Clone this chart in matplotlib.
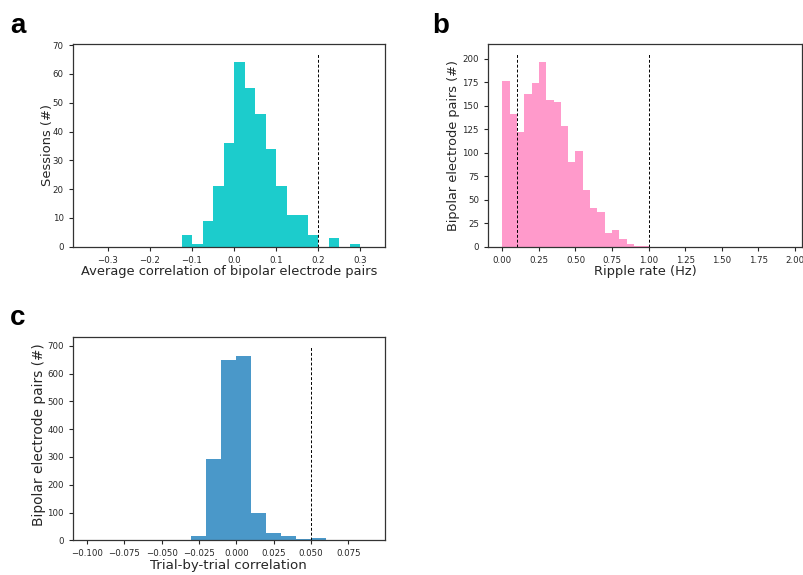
import numpy as np
import matplotlib
matplotlib.use("Agg")
import matplotlib.pyplot as plt
from matplotlib.ticker import MultipleLocator

# panel a: average correlation per session
a_edges = np.round(np.arange(-0.35, 0.3251, 0.025), 3)
a_counts = [0, 0, 0, 0, 0, 0, 0, 0, 0,
            4, 1, 9, 21, 36, 64, 55, 46, 34, 21, 11, 11, 4, 0, 3, 0, 1, 0]

# panel b: ripple rate
b_edges = np.round(np.arange(0.0, 1.0001, 0.05), 3)
b_counts = [176, 141, 122, 162, 174, 196, 156, 154, 128, 90,
            102, 60, 41, 37, 15, 18, 8, 3, 1, 1]

# panel c: trial-by-trial correlation
c_edges = np.round(np.arange(-0.1, 0.0901, 0.01), 3)
c_counts = [0, 0, 0, 0, 0, 0, 1, 16, 293, 649, 664, 98, 27, 16, 5, 8, 2, 1, 1]

TXT = "#262626"
plt.rcParams["font.family"] = "DejaVu Sans"
plt.rcParams["text.color"] = TXT
plt.rcParams["axes.labelcolor"] = TXT
plt.rcParams["xtick.color"] = TXT
plt.rcParams["ytick.color"] = TXT
plt.rcParams["xtick.labelsize"] = 6.2
plt.rcParams["ytick.labelsize"] = 6.2
plt.rcParams["xtick.major.size"] = 3
plt.rcParams["ytick.major.size"] = 3
plt.rcParams["xtick.major.width"] = 0.8
plt.rcParams["ytick.major.width"] = 0.8
plt.rcParams["axes.edgecolor"] = "#333333"
plt.rcParams["axes.linewidth"] = 0.9

W, H = 804, 575
fig = plt.figure(figsize=(W / 100, H / 100), dpi=100)


def rect(l, t, r, b):
    return [l / W, 1 - b / H, (r - l) / W, (b - t) / H]


def panel(box, edges, counts, color, vlines, xlabel, ylabel, xlim,
          xl_size, yl_size, ylab_xy, xlab_y):
    ax = fig.add_axes(box)
    ax.hist(edges[:-1], bins=edges, weights=counts, color=color)
    for v in vlines:
        ax.axvline(v, ymax=0.95, color="k", ls="--", lw=0.7, dashes=(3, 2))
    ax.set_xlim(*xlim)
    ax.set_ylim(0, max(counts) * 1.1)
    ax.set_xlabel(xlabel, fontsize=xl_size, va="center")
    ax.set_ylabel(ylabel, fontsize=yl_size, va="center")
    ax.yaxis.set_label_coords(*ylab_xy)
    ax.xaxis.set_label_coords(0.5, xlab_y)
    return ax


ax_a = panel(rect(72.7, 44, 385, 246.7), a_edges, a_counts, "#1ccccc", [0.2],
             "Average correlation of bipolar electrode pairs", "Sessions (#)",
             (-0.38375, 0.35875), 9.4, 9.4, (-0.082, 0.5), -0.12)
ax_b = panel(rect(488, 44, 802, 246.7), b_edges, b_counts, "#ff9acb", [0.1, 1.0],
             "Ripple rate (Hz)", "Bipolar electrode pairs (#)", (-0.0975, 2.0475),
             9.4, 9.3, (-0.111, 0.5), -0.12)
ax_b.yaxis.set_major_locator(MultipleLocator(25))
ax_b.xaxis.set_major_locator(MultipleLocator(0.25))
ax_c = panel(rect(72.7, 337.3, 385, 540.3), c_edges, c_counts, "#4a98c9", [0.05],
             "Trial-by-trial correlation", "Bipolar electrode pairs (#)",
             (-0.1095, 0.0995), 9.6, 9.9, (-0.107, 0.52), -0.122)
ax_c.xaxis.set_major_locator(MultipleLocator(0.025))

for x, y, s in [(10, 33, "a"), (432, 33, "b"), (10, 325, "c")]:
    fig.text(x / W, 1 - y / H, s, fontsize=20, fontweight="bold",
             family="Liberation Sans", color="k", va="baseline")

fig.savefig("out.png", dpi=100)
